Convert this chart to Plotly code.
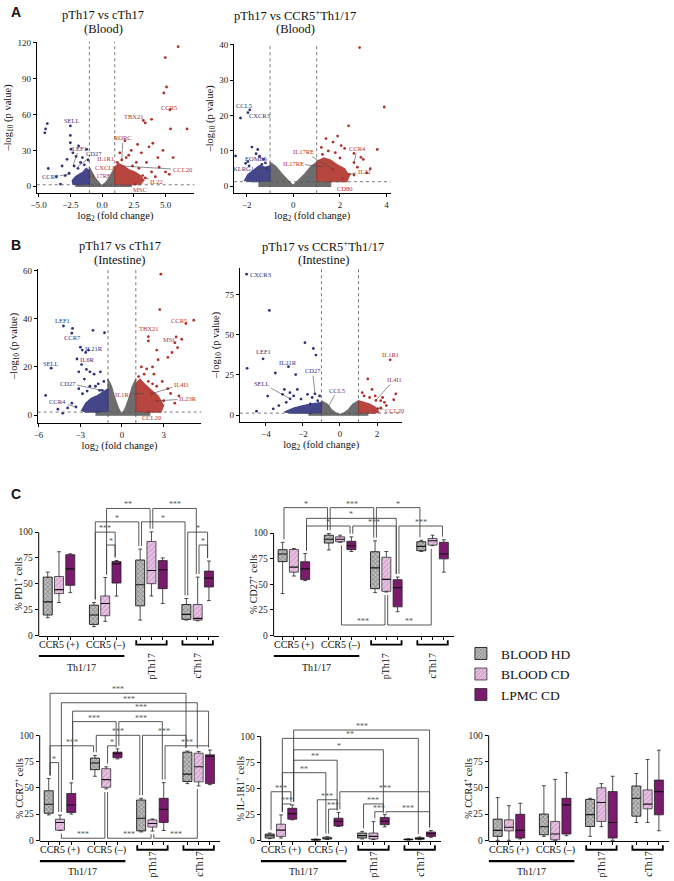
import plotly.graph_objects as go

W, H = 674, 881
SERIF = "Liberation Serif"
NAVY = "#31327e"
BRICK = "#b1312a"
GREY = "#6d6d6d"
HD_BG, HD_FG = "#bdbdbd", "#2a2a2a"
CD_BG, CD_FG = "#d9a6d3", "#ffffff"
LP = "#7a1b6e"

# ---------------- Panel A, left: pTh17 vs cTh17 (Blood) ----------------
A1_gray_x = [-2.1, 2.3, 2.3, 1.0, 1.0, 0.8, 0.55, 0.3, 0.1, 0.0, -0.1, -0.3, -0.55, -0.8, -1.0, -1.0, -2.1]
A1_gray_y = [0, 0, 1.3, 1.3, 16, 12, 7, 3.5, 1.4, 0.8, 1.4, 3.5, 7, 12, 16, 1.3, 1.3]
A1_bcloud_x = [-1.0, -1.0, -1.25, -1.5, -1.8, -2.1, -2.35, -2.3, -1.9, -1.5]
A1_bcloud_y = [1.3, 13, 15, 12, 10, 8, 5, 1.8, 1.3, 1.3]
A1_rcloud_x = [1.0, 1.0, 1.3, 1.7, 2.1, 2.6, 3.0, 3.3, 3.0, 2.2, 1.6]
A1_rcloud_y = [1.3, 16, 19, 17, 14, 12, 9, 5, 1.5, 1.3, 1.3]
A1_blue_x = [-4.51, -4.45, -4.32, -4.24, -3.28, -3.15, -2.76, -2.5, -2.5, -2.5, -2.45, -2.3, -2.05,
             -1.85, -1.7, -1.55, -1.4, -1.2, -1.1, -2.9, -2.2, -1.9, -3.6, -2.6]
A1_blue_y = [44.7, 48, 52.4, 14.9, 1.9, 17, 22.6, 50.5, 42.5, 36.4, 31, 28, 25,
             33.7, 20, 24, 18, 30.9, 22, 9, 17, 15, 8, 11]
A1_red_x = [6.0, 4.98, 5.08, 4.87, 5.35, 6.7, 5.4, 3.9, 3.4, 3.25, 4.8, 4.4, 5.6, 4.0, 3.7, 2.8, 3.1, 2.3,
            1.8, 2.1, 1.4, 3.5, 4.5, 5.0, 5.3, 3.9, 2.7, 1.55, 1.2, 2.4, 3.2, 3.4, 2.6, 4.2, 1.9, 2.9]
A1_red_y = [116.7, 107.6, 83, 78, 64, 48, 48, 56, 53, 55, 30, 24, 24, 36, 33, 35, 28, 30,
            38, 26, 28, 20, 16, 12, 10, 12, 20, 22, 20, 17, 9, 7, 2, 8, 24, 15]
A1_lab = ["SELL", "LEF1", "CD27", "CCR7", "RORC", "IL1R1", "CXCL8", "IL17RE", "TBX21", "CCR5", "CCL20", "IL22", "MSC"]
A1_lab_col = ["b", "b", "b", "b", "r", "r", "r", "r", "r", "r", "r", "r", "r"]
A1_lab_x = [-2.4, -1.8, -0.6, -4.1, 1.65, 0.3, 0.25, -0.1, 2.5, 5.3, 6.3, 4.3, 3.0]
A1_lab_y = [54.6, 32, 27.5, 8, 40.5, 23, 16, 9, 58, 66, 14, 4, -3]
A1_pt_x = [None, -2.3, -1.9, -2.5, 1.55, None, None, None, None, None, 1.55, 3.4, 2.6]
A1_pt_y = [None, 17, 16.5, 10, 22, None, None, None, None, None, 17, 7, 2]

# ---------------- Panel A, right: pTh17 vs CCR5+Th1/17 (Blood) ----------------
A2_gray_x = [-1.5, 1.6, 1.6, 1.0, 1.0, 0.75, 0.5, 0.25, 0.05, 0.0, -0.05, -0.25, -0.5, -0.75, -1.0, -1.0, -1.5]
A2_gray_y = [0, 0, 1.3, 1.3, 6.8, 5.6, 3.6, 1.8, 0.5, 0.3, 0.5, 1.8, 3.6, 5.6, 6.8, 1.3, 1.3]
A2_bcloud_x = [-1.0, -1.0, -1.2, -1.45, -1.7, -1.95, -2.1, -1.8, -1.4]
A2_bcloud_y = [1.3, 5.8, 5.4, 5.9, 4.6, 3.4, 1.6, 1.3, 1.3]
A2_rcloud_x = [1.0, 1.0, 1.3, 1.6, 1.9, 2.2, 2.4, 2.3, 1.8, 1.4]
A2_rcloud_y = [1.3, 7, 8, 7.4, 6, 5, 3, 1.3, 1.3, 1.3]
A2_blue_x = [-2.27, -1.87, -1.95, -2.48, -1.78, -1.53, -1.28, -1.6, -1.45, -2.05, -1.9, -1.2, -1.15, -1.95, -1.35]
A2_blue_y = [19.3, 21.6, 20.8, 8.6, 11.1, 10.4, 7.6, 9.2, 8.5, 6.5, 5.8, 6.6, 5.1, 7.0, 6.2]
A2_red_x = [2.84, 3.9, 2.37, 1.9, 3.6, 2.2, 2.05, 1.7, 1.5, 2.6, 2.9, 3.0, 1.25, 1.8, 2.0, 2.6, 3.3,
            3.15, 2.4, 2.6, 2.1, 1.7, 2.75, 1.4, 1.2]
A2_red_y = [39.2, 22.4, 17.1, 14.2, 10.4, 10.7, 11.5, 12.5, 10, 9.3, 8.2, 7.6, 9, 9.5, 8, 6.7, 5,
            3.8, 3.4, 3.2, 2.2, 4.8, 5.4, 13.5, 11]
A2_lab = ["CCL5", "CXCR3", "EOMES", "KLRG1", "IL17RE", "IL17RE", "IL1R1", "CCR4", "IL22", "CD80"]
A2_lab_col = ["b", "b", "b", "b", "r", "r", "r", "r", "r", "r"]
A2_lab_x = [-2.1, -1.45, -1.6, -2.15, 0.45, 0.0, 2.84, 2.75, 3.05, 2.2]
A2_lab_y = [22.8, 20.0, 7.9, 4.9, 9.8, 6.5, 40.4, 10.6, 4.2, -0.6]
A2_pt_x = [None, None, -1.95, -1.15, 1.7, 1.3, None, 2.6, 2.4, None]
A2_pt_y = [None, None, 7.0, 5.1, 4.8, 5.5, None, 6.7, 3.4, None]

# ---------------- Panel B, left: pTh17 vs cTh17 (Intestine) ----------------
B1_gray_x = [-1.9, 2.0, 2.0, 1.0, 1.0, 0.75, 0.5, 0.25, 0.05, -0.05, -0.25, -0.5, -0.75, -1.0, -1.0, -1.9]
B1_gray_y = [0, 0, 1.3, 1.3, 15, 12, 7, 3, 0.8, 0.8, 3, 7, 12, 15, 1.3, 1.3]
B1_bcloud_x = [-1.0, -1.0, -1.4, -1.8, -2.2, -2.6, -2.9, -2.6, -2.0, -1.5]
B1_bcloud_y = [1.3, 11, 9.5, 8, 7, 5, 2, 1.3, 1.3, 1.3]
B1_rcloud_x = [1.0, 1.0, 1.3, 1.7, 2.2, 2.6, 3.0, 2.8, 2.2, 1.6]
B1_rcloud_y = [1.3, 13, 15, 12.5, 10, 8, 4, 1.3, 1.3, 1.3]
B1_blue_x = [-4.2, -3.6, -3.55, -2.08, -1.25, -2.6, -2.98, -2.9, -3.23, -5.08, -2.85, -2.4, -2.55, -2.3,
             -2.7, -2.0, -1.7, -1.55, -3.1, -1.3, -2.83, -5.48, -4.25, -3.3, -3.6, -3.1, -2.3, -2.5,
             -1.9, -3.9, -4.6, -1.6, -1.41]
B1_blue_y = [37, 34, 36, 35.2, 34.2, 26, 28.2, 21, 23.3, 19.5, 27, 27, 19, 18,
             15, 17, 13, 18, 18, 14, 8.9, 8.2, 0.8, 3.4, 5, 11, 12, 10,
             12, 3, 2.5, 10.3, 10.3]
B1_red_x = [2.8, 2.72, 5.16, 4.6, 1.9, 4.3, 3.9, 4.0, 3.8, 3.6, 3.3, 2.5, 1.9, 2.6, 1.78, 2.2, 2.3, 1.6,
            1.9, 2.2, 2.5, 2.9, 3.3, 3.5, 4.1, 3.0, 2.49, 2.13, 1.4, 1.2, 3.8, 1.9]
B1_red_y = [58.5, 43.8, 39.4, 38, 32.6, 31.5, 32.5, 28, 30, 26, 24, 27, 30.8, 23, 19.2, 20, 17, 17,
            14, 13, 12, 14, 11, 9, 8, 6, 5.9, 8.9, 20, 16, 5, 1.5]
B1_lab = ["LEF1", "CCR7", "IL21R", "IL6R", "SELL", "CD27", "CCR4", "IL1R1", "CCR5", "TBX21", "MSC", "IL4I1", "IL23R", "CCL20"]
B1_lab_col = ["b", "b", "b", "b", "b", "b", "b", "r", "r", "r", "r", "r", "r", "r"]
B1_lab_x = [-4.25, -3.54, -2.0, -2.48, -5.08, -3.9, -4.6, 0.12, 4.07, 1.94, 3.43, 4.26, 4.73, 2.13]
B1_lab_y = [39.2, 32.2, 27.8, 22.9, 21.6, 13.3, 5.5, 8.6, 39.4, 36, 31.2, 12.7, 6.8, -1.0]
B1_pt_x = [None, None, None, None, None, -1.41, -3.3, 1.6, None, None, None, 2.13, 2.49, 1.9]
B1_pt_y = [None, None, None, None, None, 10.3, 3.4, 9.0, None, None, None, 8.9, 5.9, 1.5]

# ---------------- Panel B, right: pTh17 vs CCR5+Th1/17 (Intestine) ----------------
B2_gray_x = [-1.7, 1.5, 1.5, 1.0, 1.0, 0.7, 0.45, 0.2, 0.0, -0.2, -0.45, -0.7, -1.0, -1.0, -1.7]
B2_gray_y = [0, 0, 1.3, 1.3, 9, 7, 3.5, 1.2, 0.5, 1.2, 3.5, 7, 9, 1.3, 1.3]
B2_bcloud_x = [-1.0, -1.0, -1.5, -2.0, -2.5, -3.0, -2.6, -2.0, -1.5]
B2_bcloud_y = [1.3, 8, 7, 6, 4.5, 2, 1.3, 1.3, 1.3]
B2_rcloud_x = [1.0, 1.0, 1.3, 1.6, 1.9, 2.1, 1.9, 1.5]
B2_rcloud_y = [1.3, 9, 8, 7, 5, 2, 1.3, 1.3]
B2_blue_x = [-5.04, -3.81, -4.15, -2.78, -1.89, -1.44, -1.3, -2.39, -3.49, -5.01, -3.9, -4.5, -3.0, -2.7,
             -2.5, -2.1, -1.75, -1.5, -2.9, -3.3, -3.6, -1.2, -1.1, -3.1, -2.3, -1.6, -2.69, -1.35]
B2_blue_y = [87.5, 65, 35, 30.1, 45, 41.4, 37.3, 25.2, 26.2, 29.1, 11.9, 2.5, 16, 14,
             12, 10, 13, 11, 8, 6, 4, 9, 12, 13, 16, 7, 10.2, 13.3]
B2_red_x = [2.71, 1.5, 1.73, 3.01, 2.9, 1.3, 1.6, 2.2, 2.4, 1.94, 2.03, 2.5, 2.2, 1.2, 1.9, 2.3]
B2_red_y = [34.4, 22.5, 16, 13.3, 9.6, 12, 11, 9, 8, 9.2, 4.1, 6, 4.5, 14, 12, 11]
B2_lab = ["CXCR3", "LEF1", "IL21R", "CD27", "SELL", "CCL5", "IL1R1", "IL4I1", "CCL20"]
B2_lab_col = ["b", "b", "b", "b", "b", "b", "r", "r", "r"]
B2_lab_x = [-4.3, -4.15, -2.78, -1.48, -4.2, -0.15, 2.74, 2.92, 2.95]
B2_lab_y = [87.5, 39.5, 33.0, 27.7, 19.9, 15.5, 37.4, 22.1, 3.1]
B2_pt_x = [None, None, None, -1.35, -2.69, -0.64, None, 1.94, 2.03]
B2_pt_y = [None, None, None, 13.3, 10.2, 5.0, None, 9.2, 4.1]

# ---------------- Panel C: box statistics (order: CCR5+ HD,CD,LPMC | CCR5- ... | pTh17 ... | cTh17 ...) ----------------
GROUPS = ["CCR5 (+)", "CCR5 (–)", "pTh17", "cTh17"]
CONDITIONS = ["BLOOD HD", "BLOOD CD", "LPMC CD"]

PD1_lo = [17, 31.7, 41.3, 8.3, 13.5, 38, 14.7, 38.1, 30.8, 14.7, 14, 33.6]
PD1_q1 = [19.6, 40.4, 48.4, 10.5, 18.9, 50.6, 28.5, 50, 45.2, 15.4, 14.7, 46.8]
PD1_med = [32.4, 44.2, 64.4, 19.6, 30.8, 69.2, 49, 62.8, 63.5, 20.2, 16.3, 55.4]
PD1_q3 = [56.4, 57, 78.2, 29.2, 38.1, 71.5, 73, 91, 72.4, 29.8, 29.8, 62.2]
PD1_hi = [61.2, 81, 79, 31.7, 56, 72.5, 83.6, 100.3, 75, 35.6, 56.4, 72]
PD1_br_a = [4, 7, 3, 6, 3, 4, 9, 10]
PD1_br_b = [7, 10, 6, 9, 5, 5, 11, 11]
PD1_br_lev = [123, 123, 110, 110, 100, 87.5, 100, 87.5]
PD1_br_txt = ["**", "***", "*", "*", "***", "*", "*", "*"]

CD27_lo = [40.8, 58, 53.5, 83.5, 91, 82, 41.7, 42.3, 23, 82, 87.7, 61.8]
CD27_q1 = [72.1, 61.8, 54.5, 90.3, 91.6, 83.8, 45.6, 43, 27.8, 82.8, 88.3, 74.8]
CD27_med = [79.6, 66.7, 65, 94, 94, 87.7, 66, 54.7, 46.6, 87, 92.6, 79.6]
CD27_q3 = [83.8, 84, 72, 98, 96.4, 92, 81.8, 76.4, 54.4, 91.6, 94.8, 91]
CD27_hi = [91, 85, 80, 99.7, 98, 96.4, 92.5, 82, 57, 93, 98, 93.5]
CD27_br_a = [0, 3, 6, 2, 2, 5, 8, 4, 7]
CD27_br_b = [3, 6, 9, 8, 5, 8, 11, 7, 10]
CD27_br_lev = [125, 125, 125, 114.5, 107, 107, 107, 10, 10]
CD27_br_txt = ["*", "***", "*", "*", "*", "***", "***", "***", "**"]

CCR7_lo = [24.2, 9.4, 25, 61, 49, 77.5, 8, 8.8, 9.4, 54, 51.8, 53]
CCR7_q1 = [25.8, 9.6, 26.5, 67.3, 50.5, 78.6, 9, 12.6, 17, 56, 55.7, 54]
CCR7_med = [34.3, 17, 33.6, 73.6, 57.8, 82.4, 21, 16, 29.6, 63, 70, 80]
CCR7_q3 = [47.2, 20.1, 44.6, 78.3, 68.2, 84, 38.4, 19.5, 40, 84, 83, 81.4]
CCR7_hi = [58.8, 24, 54.7, 80.8, 70, 87, 40, 20.4, 54.9, 85, 84.6, 86]
CCR7_br_a = [0, 1, 2, 2, 5, 3, 6, 0, 8, 4, 0, 1, 4, 7]
CCR7_br_b = [9, 10, 11, 5, 8, 6, 9, 3, 11, 5, 1, 4, 7, 10]
CCR7_br_lev = [140, 131, 123, 113, 113, 100, 100, 90, 90, 90, 74, 2, 2, 2]
CCR7_br_txt = ["***", "***", "***", "***", "***", "***", "***", "***", "***", "*", "*", "***", "***", "***"]

IL1R1_lo = [1.6, 2.2, 19.7, 0.2, 0.8, 13.3, 1.3, 0.8, 13, 0.3, 0.6, 2.9]
IL1R1_q1 = [2.2, 3.8, 20.3, 0.3, 1.2, 13.8, 2.2, 1.3, 15, 0.5, 1.0, 3.8]
IL1R1_med = [4.4, 9.8, 25.7, 0.6, 2.0, 18.4, 4.5, 3.8, 18.4, 0.8, 1.6, 6.3]
IL1R1_q3 = [6, 15.5, 30.8, 1.0, 3.0, 21.3, 7, 7, 22, 1.2, 2.6, 8]
IL1R1_hi = [7, 24.4, 34, 1.2, 3.5, 26.7, 8.6, 18, 24.7, 1.5, 3.2, 9.5]
IL1R1_br_a = [2, 1, 2, 2, 1, 0, 5, 3, 1, 6, 4, 7, 8]
IL1R1_br_b = [11, 10, 8, 5, 4, 2, 11, 5, 2, 8, 5, 8, 11]
IL1R1_br_lev = [106, 98, 87, 77, 65, 46.7, 46.7, 39, 35, 35, 30, 27.5, 27.5]
IL1R1_br_txt = ["***", "**", "*", "**", "**", "***", "***", "***", "***", "***", "***", "***", "***"]

CCR4_lo = [0, 0, 1.3, 3.8, 0, 4.4, 3.8, 13, 0, 17, 17, 9.1]
CCR4_q1 = [3.8, 9, 2.2, 5.3, 0.5, 6, 13.2, 18, 2.2, 23, 30, 24.3]
CCR4_med = [9.5, 12.5, 9.5, 13, 6, 33.8, 24.5, 36, 17, 40, 34.5, 46.4]
CCR4_q3 = [20.2, 19.5, 24.8, 25, 18, 40, 39, 50, 46.4, 51.7, 48, 57.4]
CCR4_hi = [40.7, 33, 35.3, 52, 58, 64.4, 40, 54, 61, 63.7, 77, 85.8]

# ------------------------------------------------------------------------------------------
fig = go.Figure()
shapes, annos, axes = [], [], {}

AX = dict(showline=True, linecolor="black", linewidth=1, ticks="outside", ticklen=3, tickwidth=1,
          tickcolor="black", showgrid=False, zeroline=False, fixedrange=True,
          tickfont=dict(family=SERIF, size=9, color="#222"))


def names(n):
    return ("x" if n == 1 else f"x{n}"), ("y" if n == 1 else f"y{n}")


def xdom(l, r):
    return [l / W, r / W]


def ydom(t, b):
    return [1 - b / H, 1 - t / H]


def add_volcano(n, box, xr, yr, xtv, xfmt, ytv, gray, bcl, rcl, bpts, rpts, labs, t1, t2, tcx):
    xa, ya = names(n)
    l, r, t, b = box
    axes["xaxis" if n == 1 else f"xaxis{n}"] = dict(
        AX, domain=xdom(l, r), range=xr, anchor=ya, tickvals=xtv, tickformat=xfmt,
        title=dict(text="log<sub>2</sub> (fold change)", font=dict(family=SERIF, size=10.5), standoff=2))
    axes["yaxis" if n == 1 else f"yaxis{n}"] = dict(
        AX, domain=ydom(t, b), range=yr, anchor=xa, tickvals=ytv,
        title=dict(text="–log<sub>10</sub> (p value)", font=dict(family=SERIF, size=10.5), standoff=3))
    for (cx, cy), col, op in zip((gray, bcl, rcl), (GREY, NAVY, BRICK), (1.0, 0.9, 0.9)):
        fig.add_trace(go.Scatter(x=cx, y=cy, mode="lines", fill="toself", fillcolor=col, opacity=op,
                                 line=dict(color=col, width=1.2), xaxis=xa, yaxis=ya,
                                 hoverinfo="skip", showlegend=False))
    for (px_, py_), col in zip((bpts, rpts), (NAVY, BRICK)):
        fig.add_trace(go.Scatter(x=px_, y=py_, mode="markers", marker=dict(color=col, size=2.8),
                                 xaxis=xa, yaxis=ya, hoverinfo="skip", showlegend=False))
    shapes.append(dict(type="line", xref=f"{xa} domain", yref=ya, x0=0, x1=1, y0=1.3, y1=1.3,
                       line=dict(color="#555", width=0.8, dash="dot")))
    for v in (-1, 1):
        shapes.append(dict(type="line", xref=xa, yref=f"{ya} domain", x0=v, x1=v, y0=0, y1=1,
                           line=dict(color="#555", width=0.8, dash="dot")))
    nm, cl, lx, ly, ptx, pty = labs
    for i in range(len(nm)):
        color = NAVY if cl[i] == "b" else BRICK
        f = dict(family=SERIF, size=6.5, color=color)
        if ptx[i] is None:
            annos.append(dict(x=lx[i], y=ly[i], xref=xa, yref=ya, text=nm[i], showarrow=False, font=f))
        else:
            annos.append(dict(x=ptx[i], y=pty[i], ax=lx[i], ay=ly[i], axref=xa, ayref=ya, xref=xa,
                              yref=ya, text=nm[i], showarrow=True, arrowhead=0, arrowwidth=0.6,
                              arrowcolor="#444", standoff=0, font=f))
    tf = dict(family=SERIF, size=12.5, color="#111")
    for txt, py in (t1, t2):
        annos.append(dict(x=tcx / W, y=1 - py / H, xref="paper", yref="paper", text=txt,
                          xanchor="center", yanchor="middle", showarrow=False, font=tf))


add_volcano(1, (31, 190, 38, 191), [-5.15, 7.27], [-5.8, 120.9], [-5, -2.5, 0, 2.5, 5], ".1f",
            [0, 30, 60, 90, 120],
            (A1_gray_x, A1_gray_y), (A1_bcloud_x, A1_bcloud_y), (A1_rcloud_x, A1_rcloud_y),
            (A1_blue_x, A1_blue_y), (A1_red_x, A1_red_y),
            (A1_lab, A1_lab_col, A1_lab_x, A1_lab_y, A1_pt_x, A1_pt_y),
            ("pTh17 vs cTh17", 11), ("(Blood)", 25), 98)
add_volcano(2, (230, 388, 40, 191), [-2.55, 4.17], [-1.96, 40.3], [-2, 0, 2, 4], "d",
            [0, 10, 20, 30, 40],
            (A2_gray_x, A2_gray_y), (A2_bcloud_x, A2_bcloud_y), (A2_rcloud_x, A2_rcloud_y),
            (A2_blue_x, A2_blue_y), (A2_red_x, A2_red_y),
            (A2_lab, A2_lab_col, A2_lab_x, A2_lab_y, A2_pt_x, A2_pt_y),
            ("pTh17 vs CCR5<sup>+</sup>Th1/17", 11), ("(Blood)", 25), 292)
add_volcano(3, (32, 197, 267, 423), [-6.05, 5.7], [-3.3, 60.8], [-6, -3, 0, 3], "d",
            [0, 20, 40, 60],
            (B1_gray_x, B1_gray_y), (B1_bcloud_x, B1_bcloud_y), (B1_rcloud_x, B1_rcloud_y),
            (B1_blue_x, B1_blue_y), (B1_red_x, B1_red_y),
            (B1_lab, B1_lab_col, B1_lab_x, B1_lab_y, B1_pt_x, B1_pt_y),
            ("pTh17 vs cTh17", 244), ("(Intestine)", 258), 115)
add_volcano(4, (236, 400, 266, 422), [-5.4, 3.37], [-4.3, 91.6], [-4, -2, 0, 2], "d",
            [0, 25, 50, 75],
            (B2_gray_x, B2_gray_y), (B2_bcloud_x, B2_bcloud_y), (B2_rcloud_x, B2_rcloud_y),
            (B2_blue_x, B2_blue_y), (B2_red_x, B2_red_y),
            (B2_lab, B2_lab_col, B2_lab_x, B2_lab_y, B2_pt_x, B2_pt_y),
            ("pTh17 vs CCR5<sup>+</sup>Th1/17", 244), ("(Intestine)", 258), 320)

# ------------------------------------ box panels ------------------------------------
GAP = 4.1
POS = [g * GAP + k - 1 for g in range(4) for k in range(3)]
XR = [-1.8, 14.2]
BW = 0.8
STYLES = [
    dict(color=HD_BG, pattern=dict(shape="x", fgcolor=HD_FG, bgcolor=HD_BG, size=3.2, solidity=0.35),
         line=dict(color="black", width=0.8)),
    dict(color=CD_BG, pattern=dict(shape="/", fgcolor=CD_FG, bgcolor=CD_BG, size=3.5, solidity=0.35),
         line=dict(color="#333", width=0.8)),
    dict(color=LP, line=dict(color="#222", width=0.8)),
]


def add_box_panel(n, lr, zero_px, scale, ytop, stats, brs, ytitle, offs, legend):
    xa, ya = names(n)
    lo, q1, med, q3, hi = stats
    l, r = lr
    top_px = zero_px - ytop * scale
    bot_px = zero_px + 1 * scale
    axes[f"xaxis{n}"] = dict(AX, domain=xdom(l, r), range=XR, anchor=ya, tickvals=POS,
                             ticktext=[""] * 12, ticklen=3)
    axes[f"yaxis{n}"] = dict(AX, domain=ydom(top_px, bot_px), range=[-1, ytop], anchor=xa,
                             showline=False, tickvals=[0, 25, 50, 75, 100],
                             tickfont=dict(family=SERIF, size=9.5, color="#222"))
    shapes.append(dict(type="line", xref=f"{xa} domain", yref=ya, x0=0, x1=0, y0=-1, y1=100,
                       line=dict(color="black", width=1)))
    for k in range(3):
        idx = [g * 3 + k for g in range(4)]
        fig.add_trace(go.Bar(x=[POS[i] for i in idx], base=[q1[i] for i in idx],
                             y=[q3[i] - q1[i] for i in idx], width=BW, marker=STYLES[k],
                             name=CONDITIONS[k], showlegend=legend, xaxis=xa, yaxis=ya,
                             hoverinfo="skip"))
    mx, my, wx, wy = [], [], [], []
    for i, p in enumerate(POS):
        mx += [p - BW / 2, p + BW / 2, None]
        my += [med[i], med[i], None]
        wx += [p, p, None, p, p, None, p - 0.17, p + 0.17, None, p - 0.17, p + 0.17, None]
        wy += [q3[i], hi[i], None, q1[i], lo[i], None, hi[i], hi[i], None, lo[i], lo[i], None]
    fig.add_trace(go.Scatter(x=wx, y=wy, mode="lines", line=dict(color="#222", width=0.8),
                             xaxis=xa, yaxis=ya, hoverinfo="skip", showlegend=False, cliponaxis=False))
    fig.add_trace(go.Scatter(x=mx, y=my, mode="lines", line=dict(color="#111", width=1.1),
                             xaxis=xa, yaxis=ya, hoverinfo="skip", showlegend=False, cliponaxis=False))
    if brs is not None:
        ba, bb, blev, btxt = brs
        bx, by = [], []
        for a, b, lev, txt in zip(ba, bb, blev, btxt):
            x0, x1 = POS[a] + 0.12, POS[b] - 0.12
            if lev < min(lo[a], lo[b]):
                ea = max(lo[a] - 3, lev + 1.5)
                eb = max(lo[b] - 3, lev + 1.5)
            else:
                ea = min(hi[a] + 3, lev - 1.5)
                eb = min(hi[b] + 3, lev - 1.5)
            bx += [x0, x0, x1, x1, None]
            by += [ea, lev, lev, eb, None]
            annos.append(dict(x=(x0 + x1) / 2, y=lev, xref=xa, yref=ya, text=txt, showarrow=False,
                              xanchor="center", yanchor="bottom", yshift=-3,
                              font=dict(family=SERIF, size=8, color="#555")))
        fig.add_trace(go.Scatter(x=bx, y=by, mode="lines", line=dict(color="#444", width=0.9),
                                 xaxis=xa, yaxis=ya, hoverinfo="skip", showlegend=False, cliponaxis=False))
    annos.append(dict(x=(l - 21) / W, y=50, xref="paper", yref=ya, text=ytitle, textangle=-90,
                      xanchor="center", yanchor="middle", showarrow=False,
                      font=dict(family=SERIF, size=10, color="#111")))
    o_lab, o_line, o_th, o_rot = offs
    lf = dict(family=SERIF, size=10, color="#111")
    for g in range(2):
        annos.append(dict(x=POS[g * 3 + 1], y=1 - (zero_px + o_lab) / H, xref=xa, yref="paper",
                          text=GROUPS[g], xanchor="center", yanchor="middle", showarrow=False, font=lf))
    xe = POS[5] + 0.7
    shapes.append(dict(type="line", xref=xa, yref="paper", x0=XR[0], x1=xe,
                       y0=1 - (zero_px + o_line) / H, y1=1 - (zero_px + o_line) / H,
                       line=dict(color="black", width=2.2)))
    annos.append(dict(x=(XR[0] + xe) / 2, y=1 - (zero_px + o_th) / H, xref=xa, yref="paper",
                      text="Th1/17", xanchor="center", yanchor="middle", showarrow=False, font=lf))
    for g in (2, 3):
        xa0, xa1 = POS[g * 3] - 0.35, POS[g * 3 + 2] + 0.35
        ya0, ya1 = 1 - (zero_px + 5) / H, 1 - (zero_px + 9.5) / H
        shapes.append(dict(type="path", xref=xa, yref="paper",
                           path=f"M{xa0},{ya0} L{xa0},{ya1} L{xa1},{ya1} L{xa1},{ya0}",
                           line=dict(color="black", width=1.8)))
        annos.append(dict(x=POS[g * 3 + 1], y=1 - (zero_px + o_rot) / H, xref=xa, yref="paper",
                          text=GROUPS[g], textangle=-90, xanchor="center", yanchor="middle",
                          showarrow=False, font=lf))


add_box_panel(5, (33, 215), 637, 1.04, 134.5, (PD1_lo, PD1_q1, PD1_med, PD1_q3, PD1_hi),
              (PD1_br_a, PD1_br_b, PD1_br_lev, PD1_br_txt), "% PD1<sup>+</sup> cells",
              (10, 21, 33, 31), True)
add_box_panel(6, (270, 452), 637, 1.03, 130, (CD27_lo, CD27_q1, CD27_med, CD27_q3, CD27_hi),
              (CD27_br_a, CD27_br_b, CD27_br_lev, CD27_br_txt), "% CD27<sup>+</sup> cells",
              (10, 21, 33, 31), False)
add_box_panel(7, (34, 216), 844, 1.06, 148, (CCR7_lo, CCR7_q1, CCR7_med, CCR7_q3, CCR7_hi),
              (CCR7_br_a, CCR7_br_b, CCR7_br_lev, CCR7_br_txt), "% CCR7<sup>+</sup> cells",
              (10, 21, 31, 24), False)
add_box_panel(8, (257, 439), 844, 1.05, 115, (IL1R1_lo, IL1R1_q1, IL1R1_med, IL1R1_q3, IL1R1_hi),
              (IL1R1_br_a, IL1R1_br_b, IL1R1_br_lev, IL1R1_br_txt), "% IL-1R1<sup>+</sup> cells",
              (10, 21, 31, 24), False)
add_box_panel(9, (487, 669), 844, 1.06, 104, (CCR4_lo, CCR4_q1, CCR4_med, CCR4_q3, CCR4_hi),
              None, "% CCR4<sup>+</sup> cells", (10, 21, 31, 24), False)

for letter, py in (("A", 8), ("B", 243), ("C", 494)):
    annos.append(dict(x=3 / W, y=1 - py / H, xref="paper", yref="paper", text=f"<b>{letter}</b>",
                      showarrow=False, xanchor="left", yanchor="middle",
                      font=dict(family="Liberation Sans", size=14, color="#111")))

fig.update_layout(
    width=W, height=H, margin=dict(l=0, r=0, t=0, b=0), autosize=False,
    paper_bgcolor="white", plot_bgcolor="white", barmode="overlay",
    font=dict(family=SERIF, color="#111"),
    shapes=shapes, annotations=annos,
    legend=dict(x=459 / W, y=1 - 640 / H, xanchor="left", yanchor="top", bgcolor="rgba(0,0,0,0)",
                font=dict(family=SERIF, size=13.5, color="#111"), itemwidth=30, tracegroupgap=0),
    **axes,
)
fig.write_html("out.html", config={"displayModeBar": False},
               post_script="document.body.style.margin='0';document.body.style.padding='0';")
